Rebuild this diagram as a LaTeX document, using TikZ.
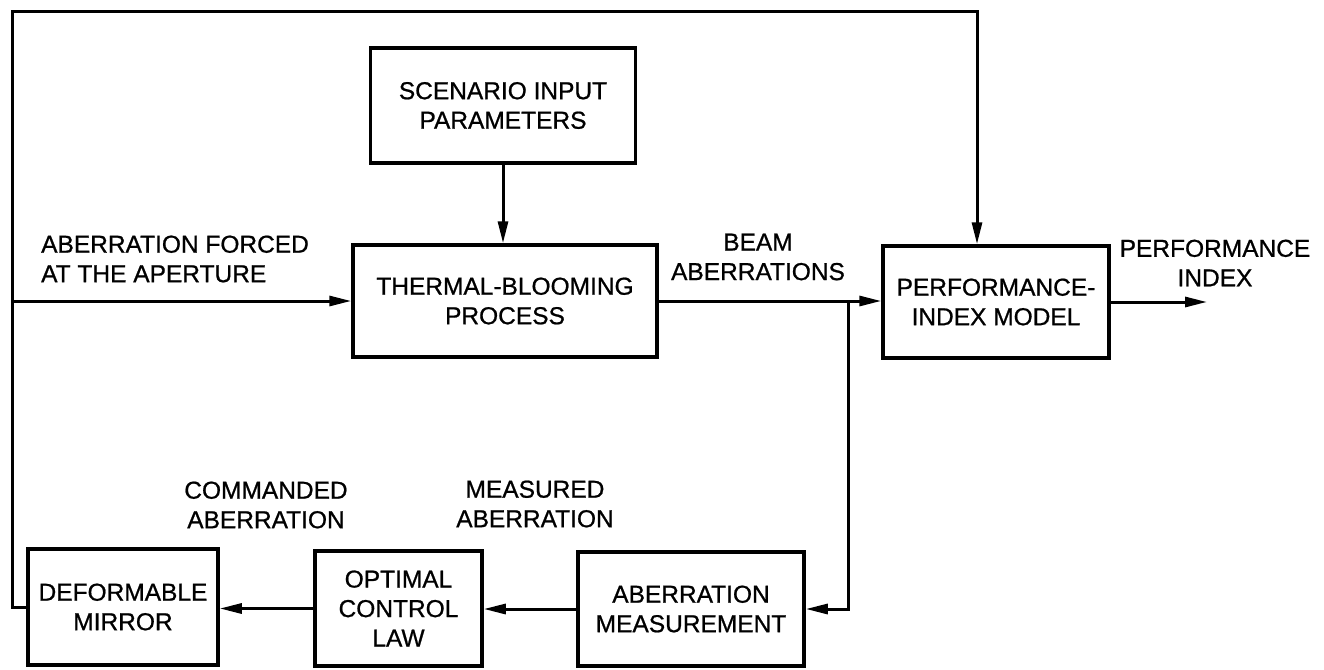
\documentclass[tikz,border=0pt]{standalone}
\usepackage{fontspec}
\setmainfont{Liberation Sans}
\newfontfamily\diagfamily{Liberation Sans}[FakeBold=0.8]
\usetikzlibrary{arrows.meta}
\newcommand{\diagfont}{\diagfamily\fontsize{24.5}{29.5}\selectfont}
\begin{document}
\begin{tikzpicture}[x=1pt,y=-1pt,
  box/.style={draw, line width=3.5pt, inner sep=0pt, align=center, font=\diagfont},
  conn/.style={line width=3pt},
  arr/.style={conn, -{Triangle[length=22pt,width=10pt]}},
  lab/.style={inner sep=0pt, font=\diagfont}]
\useasboundingbox (0,0) rectangle (1324,669);
\node[box, minimum width=265pt, minimum height=115pt] (scen) at (503,105.5) {SCENARIO INPUT\\PARAMETERS};
\node[box, minimum width=304pt, minimum height=112pt] (therm) at (505,301) {THERMAL-BLOOMING\\PROCESS};
\node[box, minimum width=226pt, minimum height=112pt] (perf) at (996,302) {PERFORMANCE-\\INDEX MODEL};
\node[box, minimum width=190pt, minimum height=116pt] (dm) at (123,607) {DEFORMABLE\\MIRROR};
\node[box, minimum width=167pt, minimum height=115pt] (ocl) at (398.5,608.5) {OPTIMAL\\CONTROL\\LAW};
\node[box, minimum width=226pt, minimum height=114pt] (am) at (691,609) {ABERRATION\\MEASUREMENT};
\coordinate (tl) at (12,12);
\coordinate (tr) at (977,12);
\coordinate (fin) at (12,301);
\coordinate (j) at (848,301);
\coordinate (pout) at (1207,302);
\draw[arr] (dm.west) -| (tl) -- (tr) -- (tr |- perf.north);
\draw[arr] (fin) -- (therm.west);
\draw[arr] (scen.south) -- (scen.south |- therm.north);
\draw[arr] (therm.east) -- (therm.east -| perf.west);
\draw[arr] (j) |- (am.east);
\draw[arr] (perf.east) -- (pout);
\draw[arr] (am.west) -- (am.west -| ocl.east);
\draw[arr] (ocl.west) -- (ocl.west -| dm.east);
\node[lab, align=left, anchor=west] (lf) at (41,259) {ABERRATION FORCED\\AT THE APERTURE};
\node[lab, align=center] (lb) at (758,257) {BEAM\\ABERRATIONS};
\node[lab, align=center] (lp) at (1215,263) {PERFORMANCE\\INDEX};
\node[lab, align=center] (lc) at (266,505) {COMMANDED\\ABERRATION};
\node[lab, align=center] (lm) at (535,504) {MEASURED\\ABERRATION};
\end{tikzpicture}
\end{document}
